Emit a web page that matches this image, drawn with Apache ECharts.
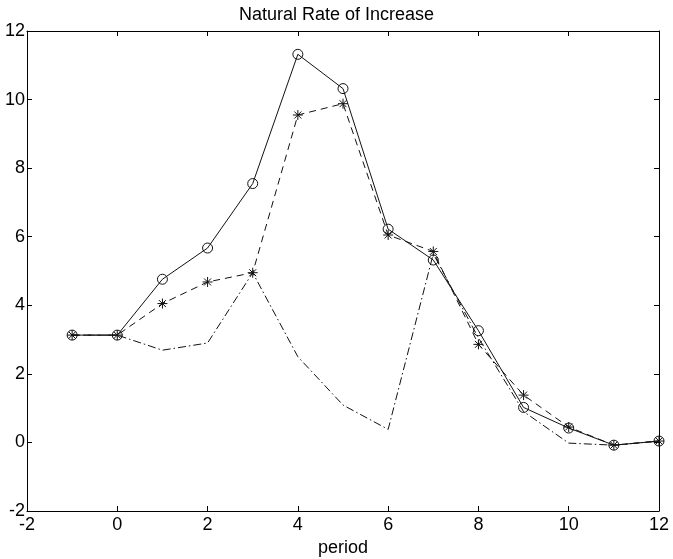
<!DOCTYPE html>
<html><head><meta charset="utf-8">
<script src="https://cdn.jsdelivr.net/npm/echarts@6/dist/echarts.min.js"></script>
<style>html,body{margin:0;padding:0;background:#fff}#c{width:673px;height:559px}</style>
</head><body><div id="c"></div>
<script>
const periods = [-1,0,1,2,3,4,5,6,7,8,9,10,11,12];
const solidCircle = [3.13,3.13,4.76,5.67,7.55,11.32,10.32,6.22,5.32,3.26,1.02,0.42,-0.08,0.04];
const dashedStar  = [3.13,3.13,4.05,4.68,4.95,9.55,9.88,6.05,5.57,2.86,1.38,0.45,-0.08,0.04];
const dashDot     = [3.13,3.13,2.69,2.9,4.95,2.5,1.09,0.38,5.5,3.05,0.9,-0.02,-0.08,0.04];
const tickValues = [-2,0,2,4,6,8,10,12];
const titleText = 'Natural Rate of Increase';
const xName = 'period';

const pairs = arr => periods.map((p,i)=>[p,arr[i]]);
const FONT = '"Liberation Sans", Arial, sans-serif';
const star = 'path://M0,5L10,5M5,0L5,10M1.5,1.5L8.5,8.5M8.5,1.5L1.5,8.5';
const chart = echarts.init(document.getElementById('c'), null, {renderer:'canvas'});
const axisCommon = () => ({
  type:'value', min:-2, max:12, interval:2,
  axisLine:{show:true, onZero:false, lineStyle:{color:'#000', width:1}},
  axisTick:{show:true, inside:true, length:5, lineStyle:{color:'#000'}},
  splitLine:{show:false}
});
chart.setOption({
  animation:false,
  backgroundColor:'#fff',
  title:{text:titleText, left:'center', top:1, textStyle:{fontFamily:FONT, fontSize:18, fontWeight:'normal', color:'#000'}},
  grid:{left:27, top:31, width:632, height:480, show:false, containLabel:false, outerBoundsMode:'none'},
  xAxis:[
    Object.assign(axisCommon(), {position:'bottom', name:xName, nameLocation:'middle', nameGap:26,
      nameTextStyle:{fontFamily:FONT, fontSize:18, color:'#000'},
      axisLabel:{fontFamily:FONT, fontSize:18, color:'#000', margin:5, formatter:v=>tickValues.includes(v)?String(v):''}}),
    Object.assign(axisCommon(), {position:'top', axisLabel:{show:false}})
  ],
  yAxis:[
    Object.assign(axisCommon(), {position:'left',
      axisLabel:{fontFamily:FONT, fontSize:18, color:'#000', margin:2, formatter:v=>tickValues.includes(v)?String(v):''}}),
    Object.assign(axisCommon(), {position:'right', axisLabel:{show:false}})
  ],
  series:[
    {type:'line', data:pairs(dashDot), symbol:'none', lineStyle:{color:'#111', width:1, type:[8,3,1.5,3]}},
    {type:'line', data:pairs(dashedStar), symbol:star, symbolSize:10,
      itemStyle:{color:'rgba(0,0,0,0)', borderColor:'#111', borderWidth:1},
      lineStyle:{color:'#111', width:1, type:[7,5]}},
    {type:'line', data:pairs(solidCircle), symbol:'circle', symbolSize:10,
      itemStyle:{color:'rgba(0,0,0,0)', borderColor:'#111', borderWidth:1},
      lineStyle:{color:'#111', width:1, type:'solid'}}
  ]
});
</script></body></html>
